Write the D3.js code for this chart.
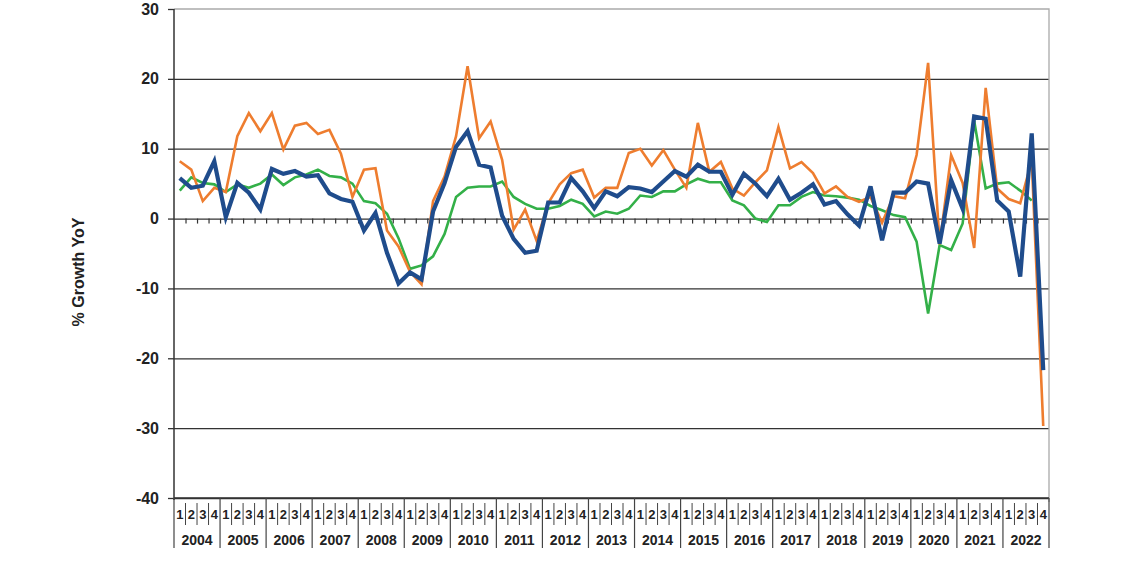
<!DOCTYPE html>
<html>
<head>
<meta charset="utf-8">
<script src="https://cdn.jsdelivr.net/npm/d3@7"></script>
<style>
  body { margin: 0; background: #fff; }
  text { font-family: "Liberation Sans", Arial, sans-serif; font-weight: bold; fill: #222; }
</style>
</head>
<body>
<div class="svg"></div>
<script>
var years = ['2004', '2005', '2006', '2007', '2008', '2009', '2010', '2011', '2012', '2013',
  '2014', '2015', '2016', '2017', '2018', '2019', '2020', '2021', '2022'];
var quarterLabels = ['1', '2', '3', '4'];
var yTicks = [-40, -30, -20, -10, 0, 10, 20, 30];

// blue, thick
var seriesBlue = [
  5.8, 4.4, 4.7, 8.2,   0.2, 5.1, 3.7, 1.3,   7.1, 6.4, 6.8, 6.0,   6.2, 3.6, 2.8, 2.4,
  -1.7, 0.8, -4.9, -9.3, -7.7, -8.7, 1.0, 5.1, 10.3, 12.5, 7.7, 7.3, 0.4, -2.9, -4.9, -4.6,
  2.3, 2.3, 5.8, 3.9,   1.5, 3.9, 3.2, 4.5,   4.3, 3.8, 5.3, 6.8,   6.0, 7.7, 6.7, 6.7,
  3.4, 6.4, 5.0, 3.2,   5.7, 2.7, 3.7, 4.9,   2.0, 2.5, 0.6, -1.0,  4.6, -3.1, 3.7, 3.7,
  5.3, 5.0, -3.6, 5.5,  1.4, 14.6, 14.3, 2.6, 1.0, -8.3, 12.2, -21.7
];
var seriesOrange = [
  8.2, 7.0, 2.5, 4.4,   3.8, 11.8, 15.1, 12.5, 15.1, 9.9, 13.3, 13.7, 12.1, 12.7, 9.3, 3.1,
  7.0, 7.2, -1.7, -4.0, -7.6, -9.4, 2.5, 6.0, 11.8, 21.8, 11.5, 13.9, 8.4, -1.6, 1.3, -3.2,
  2.2, 4.9, 6.5, 7.0,   3.0, 4.4, 4.4, 9.4,   10.0, 7.6, 9.8, 7.0,  4.4, 13.7, 6.7, 8.1,
  4.3, 3.3, 5.2, 6.9,   13.1, 7.2, 8.1, 6.5,  3.6, 4.6, 3.1, 2.4,   3.1, -0.6, 3.2, 2.9,
  9.1, 22.3, -3.7, 9.1, 5.1, -4.2, 18.7, 4.3, 2.8, 2.2, 8.3, -29.7
];
var seriesGreen = [
  4.0, 5.9, 5.1, 4.9,   3.8, 4.9, 4.4, 5.0,   6.3, 4.8, 5.9, 6.3,   7.0, 6.1, 5.9, 5.0,
  2.5, 2.2, 0.7, -2.8,  -7.2, -6.7, -5.4, -2.2, 3.1, 4.4, 4.6, 4.6, 5.3, 3.1, 2.1, 1.4,
  1.4, 1.8, 2.7, 2.1,   0.3, 1.0, 0.7, 1.4,   3.3, 3.1, 3.9, 3.9,   4.9, 5.7, 5.2, 5.2,
  2.6, 1.9, 0.0, -0.5,  1.9, 1.9, 3.1, 3.8,   3.3, 3.2, 3.0, 2.7,   1.8, 1.2, 0.5, 0.2,
  -3.3, -13.6, -3.8, -4.5, -0.7, 14.0, 4.3, 5.0, 5.2, 4.0, 2.6
];

function GrowthChart(settings) {
  $extend(this, GrowthChart.defaults, settings);
  this.appendSvg('div.svg');
  this.draw();
}

function $extend(target) {
  for (var i = 1; i < arguments.length; i++) {
    for (var k in arguments[i]) target[k] = arguments[i][k];
  }
  return target;
}

GrowthChart.defaults = {
  'svg_width': 1140,
  'svg_height': 570,
  'left': 174,
  'right': 1049,
  'top': 9,
  'bottom': 498
};

GrowthChart.prototype.appendSvg = function (selector) {
  this.svg = d3.select(selector || 'body')
    .append('svg')
    .attr('width', this.svg_width)
    .attr('height', this.svg_height);
};

GrowthChart.prototype.draw = function () {
  var svg = this.svg;
  var n = years.length * quarterLabels.length;

  var x = d3.scaleBand().domain(d3.range(n)).range([this.left, this.right]);
  var xEdge = d3.scaleLinear().domain([0, n]).range([this.left, this.right]);
  var y = d3.scaleLinear().domain([-40, 30]).range([this.bottom, this.top]);
  var cx = function (d, i) { return x(i) + x.bandwidth() / 2; };

  // horizontal gridlines
  svg.append('g')
    .attr('transform', 'translate(' + this.left + ',0)')
    .call(d3.axisRight(y).tickValues(yTicks.filter(function (v) { return v < 30; }))
      .tickSize(this.right - this.left).tickFormat(''))
    .call(function (g) { g.select('.domain').remove(); })
    .selectAll('line').attr('stroke', '#333').attr('stroke-width', 1.3);

  // plot border (top / right)
  svg.append('path')
    .attr('d', 'M' + this.left + ',' + this.top + 'H' + this.right + 'V' + (this.bottom + 4))
    .attr('fill', 'none').attr('stroke', '#aaa').attr('stroke-width', 1.3);

  // zero line ticks
  svg.append('g')
    .attr('transform', 'translate(0,' + y(0) + ')')
    .call(d3.axisBottom(xEdge).tickValues(d3.range(1, n)).tickSize(5).tickFormat(''))
    .call(function (g) { g.select('.domain').remove(); })
    .selectAll('line').attr('stroke', '#333').attr('stroke-width', 1.2);

  // left axis
  var yAxis = svg.append('g')
    .attr('transform', 'translate(' + this.left + ',0)')
    .call(d3.axisLeft(y).tickValues(yTicks).tickSize(6).tickPadding(9).tickSizeOuter(0)
      .tickFormat(function (d) { return String(d); }));
  yAxis.select('.domain').attr('stroke', '#333').attr('stroke-width', 1.5)
    .attr('d', 'M0,' + this.top + 'V' + (this.bottom + 2));
  yAxis.selectAll('line').attr('stroke', '#333').attr('stroke-width', 1.3);
  yAxis.selectAll('text').attr('font-size', 16).style('font-family', '"Liberation Sans", Arial, sans-serif')
    .style('font-weight', 'bold').attr('fill', '#222');

  svg.append('text')
    .attr('transform', 'translate(84,272) rotate(-90)')
    .attr('text-anchor', 'middle')
    .attr('font-size', 16)
    .text('% Growth YoY');

  // category table under plot
  var table = svg.append('g');
  table.append('line')
    .attr('x1', this.left).attr('x2', this.right)
    .attr('y1', this.bottom).attr('y2', this.bottom)
    .attr('stroke', '#333').attr('stroke-width', 1.5);
  table.selectAll('line.q')
    .data(d3.range(0, n + 1).filter(function (i) { return i % 4 !== 0; }))
    .enter().append('line').attr('class', 'q')
    .attr('x1', function (d) { return xEdge(d); })
    .attr('x2', function (d) { return xEdge(d); })
    .attr('y1', this.bottom + 5).attr('y2', this.bottom + 27)
    .attr('stroke', '#444').attr('stroke-width', 1);
  table.selectAll('line.yr')
    .data(d3.range(0, n + 1, 4))
    .enter().append('line').attr('class', 'yr')
    .attr('x1', function (d) { return xEdge(d); })
    .attr('x2', function (d) { return xEdge(d); })
    .attr('y1', this.bottom).attr('y2', this.bottom + 50)
    .attr('stroke', '#444').attr('stroke-width', 1.2);
  table.selectAll('text.q')
    .data(d3.range(n))
    .enter().append('text').attr('class', 'q')
    .attr('x', cx)
    .attr('y', this.bottom + 21)
    .attr('text-anchor', 'middle')
    .attr('font-size', 13)
    .text(function (d) { return quarterLabels[d % 4]; });
  table.selectAll('text.yr')
    .data(years)
    .enter().append('text').attr('class', 'yr')
    .attr('x', function (d, i) { return (xEdge(i * 4) + xEdge(i * 4 + 4)) / 2; })
    .attr('y', this.bottom + 47)
    .attr('text-anchor', 'middle')
    .attr('font-size', 14)
    .text(function (d) { return d; });

  // series lines
  var line = d3.line()
    .x(function (d, i) { return cx(d, i); })
    .y(function (d) { return y(d); });
  var series = [
    { values: seriesGreen, color: '#33b048', width: 2.6 },
    { values: seriesOrange, color: '#ee7d2f', width: 2.6 },
    { values: seriesBlue, color: '#1f4c8c', width: 4.2 }
  ];
  svg.selectAll('path.series')
    .data(series)
    .enter().append('path').attr('class', 'series')
    .attr('d', function (s) { return line(s.values); })
    .attr('fill', 'none')
    .attr('stroke', function (s) { return s.color; })
    .attr('stroke-width', function (s) { return s.width; })
    .attr('stroke-linejoin', 'miter');
};

var chart = new GrowthChart({});
</script>
</body>
</html>
